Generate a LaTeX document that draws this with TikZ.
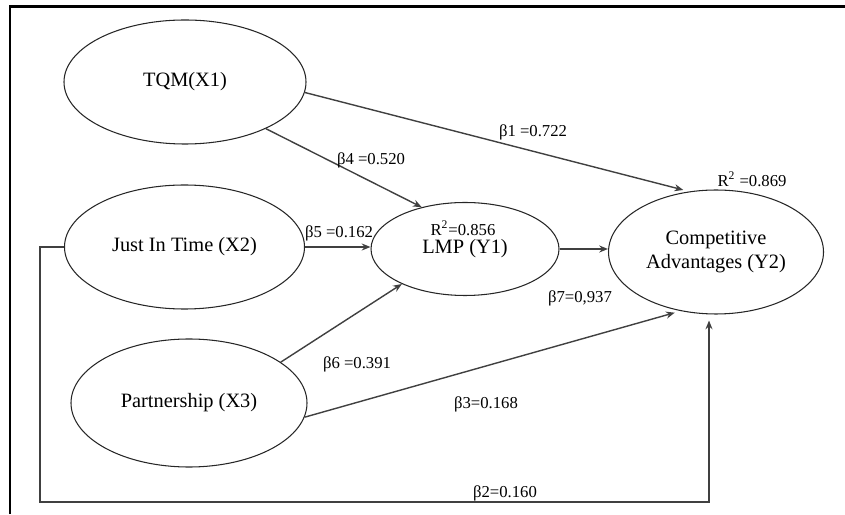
\documentclass[tikz,border=0pt]{standalone}
\usepackage{fontspec}
\setmainfont{Liberation Serif}
\usetikzlibrary{arrows.meta, shapes.geometric, positioning}

\begin{document}
\begin{tikzpicture}[
  >={Stealth[length=5pt,width=4pt]},
  font=\fontsize{11.6}{13.9}\selectfont,
  latent/.style={
    ellipse, draw=black!85, line width=0.6pt,
    inner sep=0pt, align=center
  },
  arr/.style={->, draw=black!75, line width=0.8pt},
  arrgap/.style={arr, shorten >=3.4pt},
  labl/.style={font=\fontsize{9.5}{11}\selectfont, inner sep=1pt}
]

\useasboundingbox (0,0) rectangle (16.9,10.28);
\draw[line width=1.3pt] (0.2,0) -- (0.2,10.15) -- (16.9,10.15);

% constructs
\node[latent, minimum width=4.84cm, minimum height=2.48cm] (TQM)  at (3.70, 8.64) {TQM(X1)};
\node[latent, minimum width=4.80cm, minimum height=2.48cm] (JIT)  at (3.69, 5.34) {Just In Time (X2)};
\node[latent, minimum width=4.72cm, minimum height=2.56cm] (PART) at (3.78, 2.22) {Partnership (X3)};
\node[latent, minimum width=3.76cm, minimum height=1.86cm] (LMP)  at (9.30, 5.30) {LMP (Y1)};
\node[latent, minimum width=4.30cm, minimum height=2.48cm] (Y2)   at (14.32, 5.24) {Competitive\\Advantages (Y2)};

\node[labl] (r1) at (9.26, 5.72)  {R\textsuperscript{2}=0.856};
\node[labl] (r2) at (15.04, 6.70) {R\textsuperscript{2} =0.869};

% paths
\draw[arrgap] (TQM.-5) -- (Y2.114);
\draw[arr] (TQM.-30) -- (LMP.136);
\draw[arr] (JIT.east) -- (LMP.west |- JIT.east);
\draw[arr] (PART.24) -- (LMP.209);
\draw[arr] (LMP.east) -- (Y2.west |- LMP.east);
\draw[arrgap] (PART.-7) -- (Y2.239);

\coordinate (c2) at (14.18, 0.24);
\draw[arrgap] (JIT.west) -- ++(-0.48,0) |- (c2) -- (c2 |- Y2.south);

% coefficients
\node[labl] (b1) at (10.66, 7.64) {β1 =0.722};
\node[labl] (b4) at (7.42, 7.08)  {β4 =0.520};
\node[labl] (b5) at (6.78, 5.62)  {β5 =0.162};
\node[labl] (b6) at (7.14, 3.00)  {β6 =0.391};
\node[labl] (b7) at (11.60, 4.32) {β7=0,937};
\node[labl] (b3) at (9.72, 2.20)  {β3=0.168};
\node[labl] (b2) at (10.10, 0.42) {β2=0.160};

\end{tikzpicture}
\end{document}
